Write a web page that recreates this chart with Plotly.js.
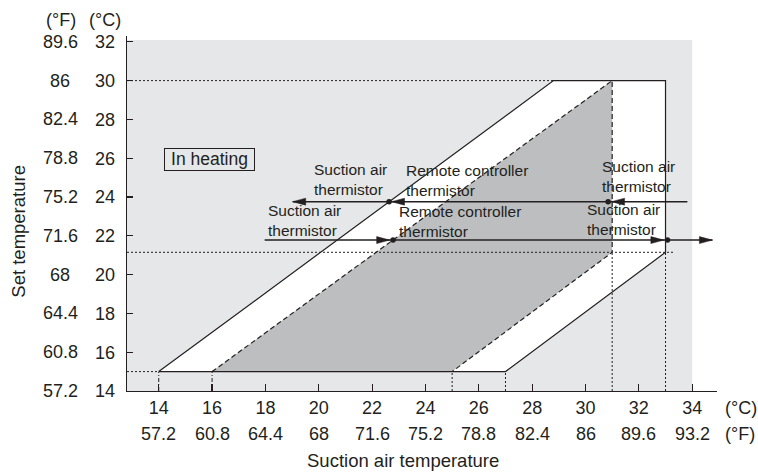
<!DOCTYPE html>
<html><head><meta charset="utf-8">
<script src="https://cdn.plot.ly/plotly-3.0.1.min.js"></script>
<style>html,body{margin:0;padding:0;background:#fff}#chart{width:758px;height:474px}</style>
</head><body><div id="chart"></div>
<script>
// ---- Tick values / labels ----
const xTickC = [14, 16, 18, 20, 22, 24, 26, 28, 30, 32, 34];
const xTickF = ['57.2', '60.8', '64.4', '68', '71.6', '75.2', '78.8', '82.4', '86', '89.6', '93.2'];
const yTickC = [14, 16, 18, 20, 22, 24, 26, 28, 30, 32];
const yTickF = ['57.2', '60.8', '64.4', '68', '71.6', '75.2', '78.8', '82.4', '86', '89.6'];

// ---- Operating region (°C: suction air temp x, set temp y) ----
const outerX = [14, 28.8, 33, 33, 27, 14];
const outerY = [15, 30, 30, 21.15, 15, 15];
const shadedX = [16, 31, 31, 25, 16];
const shadedY = [15, 30, 21.15, 15, 15];
const dashedEdgeX = [16, 31, 31, 25];
const dashedEdgeY = [15, 30, 21.15, 15];

// ---- Reference guide lines ----
const guideLevelY = [30, 21.15, 15];
const guideLevelEndX = [28.8, 33.3, 14];
const guideDotX = [25, 27, 31, 33];
const guideDotTopY = [15, 15, 21.15, 21.15];
const guideDashDotX = [14, 16];
const guideDashDotTopY = [15, 15];

// ---- Thermistor switching rows ----
const rowUpperY = 23.76;
const rowUpperX = [19.02, 33.82];
const rowUpperDots = [22.635, 30.847];
const rowUpperHeads = [19.02, 22.725, 30.974];   // pointing left
const rowLowerY = 21.78;
const rowLowerX = [17.97, 34.76];
const rowLowerDots = [22.785, 33.074];
const rowLowerHeads = [22.66, 32.94, 34.76];     // pointing right

const labelSuction = 'Suction air<br>thermistor';
const labelRemote = 'Remote controller<br>thermistor';

// ---- styling ----
const ink = '#231f20';
const FONT = 'Liberation Sans, Arial, sans-serif';
const xRange = [12.81, 34.93];
const yRange = [14, 32.30];
const headL = 0.49, headH = 0.18;

const traces = [];
// region fills
traces.push({x: outerX, y: outerY, mode: 'lines', fill: 'toself', fillcolor: '#ffffff', line: {width: 0}, hoverinfo: 'skip'});
traces.push({x: shadedX, y: shadedY, mode: 'lines', fill: 'toself', fillcolor: '#bcbec0', line: {width: 0}, hoverinfo: 'skip'});

// dotted guides
let gx = [], gy = [];
guideLevelY.forEach((v, i) => { gx.push(xRange[0], guideLevelEndX[i], null); gy.push(v, v, null); });
guideDotX.forEach((v, i) => { gx.push(v, v, null); gy.push(yRange[0], guideDotTopY[i], null); });
traces.push({x: gx, y: gy, mode: 'lines', line: {color: ink, width: 1, dash: '2px,2px'}, hoverinfo: 'skip'});
let dx = [], dy = [];
guideDashDotX.forEach((v, i) => { dx.push(v, v, null); dy.push(yRange[0], guideDashDotTopY[i], null); });
traces.push({x: dx, y: dy, mode: 'lines', line: {color: ink, width: 1, dash: '4px,2px,1px,2px'}, hoverinfo: 'skip'});

// dashed edges of shaded region
traces.push({x: dashedEdgeX, y: dashedEdgeY, mode: 'lines', line: {color: ink, width: 1.2, dash: '5px,3px'}, hoverinfo: 'skip'});
// outer outline
traces.push({x: outerX, y: outerY, mode: 'lines', line: {color: ink, width: 1.2}, hoverinfo: 'skip'});

// arrow rows
traces.push({x: [rowUpperX[0], rowUpperX[1], null, rowLowerX[0], rowLowerX[1]],
  y: [rowUpperY, rowUpperY, null, rowLowerY, rowLowerY], mode: 'lines', line: {color: ink, width: 1.5}, hoverinfo: 'skip'});

// arrow heads
let hx = [], hy = [];
rowUpperHeads.forEach(t => { hx.push(t, t + headL, t + headL, t, null); hy.push(rowUpperY, rowUpperY + headH, rowUpperY - headH, rowUpperY, null); });
rowLowerHeads.forEach(t => { hx.push(t, t - headL, t - headL, t, null); hy.push(rowLowerY, rowLowerY + headH, rowLowerY - headH, rowLowerY, null); });
traces.push({x: hx, y: hy, mode: 'lines', fill: 'toself', fillcolor: ink, line: {color: ink, width: 0.5}, hoverinfo: 'skip'});

// dots
traces.push({x: rowUpperDots.concat(rowLowerDots), y: rowUpperDots.map(() => rowUpperY).concat(rowLowerDots.map(() => rowLowerY)),
  mode: 'markers', marker: {color: ink, size: 5.5}, hoverinfo: 'skip'});

// ---- annotations ----
const ann = [];
const tf = {family: FONT, size: 18, color: ink};
const lf = {family: FONT, size: 15.5, color: ink};

// °F tick labels
yTickC.forEach((v, i) => ann.push({xref: 'paper', x: 0, xshift: -67, xanchor: 'center', yref: 'y', y: v, yanchor: 'middle', text: yTickF[i], showarrow: false, font: tf}));
xTickC.forEach((v, i) => ann.push({xref: 'x', x: v, xanchor: 'center', yref: 'paper', y: 0, yshift: -42.7, yanchor: 'middle', text: xTickF[i], showarrow: false, font: tf}));

// unit labels
ann.push({xref: 'paper', x: 0, xshift: -66.5, yref: 'paper', y: 1, yshift: 16, text: '(°F)', showarrow: false, font: tf, xanchor: 'center', yanchor: 'middle'});
ann.push({xref: 'paper', x: 0, xshift: -22.5, yref: 'paper', y: 1, yshift: 16, text: '(°C)', showarrow: false, font: tf, xanchor: 'center', yanchor: 'middle'});
ann.push({xref: 'paper', x: 1, xshift: 24, yref: 'paper', y: 0, yshift: -17, text: '(°C)', showarrow: false, font: tf, xanchor: 'center', yanchor: 'middle'});
ann.push({xref: 'paper', x: 1, xshift: 23, yref: 'paper', y: 0, yshift: -43, text: '(°F)', showarrow: false, font: tf, xanchor: 'center', yanchor: 'middle'});

// axis titles
ann.push({xref: 'paper', x: 0, xshift: 276.3, yref: 'paper', y: 0, yshift: -69.6, text: 'Suction air temperature', showarrow: false, font: {family: FONT, size: 18.5, color: ink}, xanchor: 'center', yanchor: 'middle'});
ann.push({xref: 'paper', x: 0, xshift: -108.8, yref: 'paper', y: 0, yshift: 159.5, text: 'Set temperature', textangle: -90, showarrow: false, font: {family: FONT, size: 18.5, color: ink}, xanchor: 'center', yanchor: 'middle'});

// In heating box
ann.push({xref: 'x', x: 15.912, yref: 'y', y: 25.923, text: 'In heating', showarrow: false, font: {family: FONT, size: 17.5, color: ink},
  width: 89, height: 20.5, borderpad: 0, borderwidth: 1, bordercolor: ink, xanchor: 'center', yanchor: 'middle'});

// row labels (two-line)
function lab(x, y, t) { ann.push({xref: 'x', x: x, yref: 'y', y: y, text: t, showarrow: false, font: lf, xanchor: 'left', yanchor: 'middle', align: 'left'}); }
lab(19.74, 24.879, labelSuction);
lab(23.205, 24.838, labelRemote);
lab(30.535, 25.059, labelSuction);
lab(18.03, 22.776, labelSuction);
lab(22.943, 22.750, labelRemote);
lab(29.973, 22.827, labelSuction);

const layout = {
  width: 758, height: 474,
  margin: {l: 127, r: 41, t: 36, b: 83},
  paper_bgcolor: '#ffffff', plot_bgcolor: '#ffffff',
  showlegend: false,
  font: {family: FONT, color: ink},
  xaxis: {range: xRange, tickvals: xTickC, ticktext: xTickC.map(String), ticks: 'inside', ticklen: 7, tickwidth: 1.2, tickcolor: ink,
    showline: true, linecolor: ink, linewidth: 1.3, showgrid: false, zeroline: false, tickfont: tf, fixedrange: true},
  yaxis: {range: yRange, tickvals: yTickC, ticktext: yTickC.map(String), ticks: 'inside', ticklen: 6, tickwidth: 1.2, tickcolor: ink,
    showline: true, linecolor: ink, linewidth: 1.3, showgrid: false, zeroline: false, tickfont: tf, fixedrange: true, ticklabelstandoff: 7},
  shapes: [{type: 'rect', xref: 'x', yref: 'y', x0: xRange[0], x1: 34, y0: 14, y1: 32.1, fillcolor: '#e6e7e8', line: {width: 0}, layer: 'below'}],
  annotations: ann
};

Plotly.newPlot('chart', traces, layout, {staticPlot: true, displayModeBar: false});
</script>
</body></html>
